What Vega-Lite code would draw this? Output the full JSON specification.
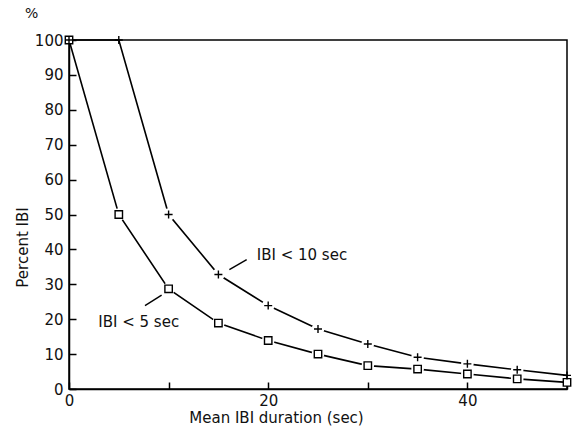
{
  "$schema": "https://vega.github.io/schema/vega-lite/v6.json",
  "width": 498,
  "height": 349,
  "autosize": {"type": "none"},
  "padding": {"left": 69, "top": 40, "right": 8, "bottom": 49},
  "background": "white",
  "config": {
    "view": {"stroke": "black", "strokeWidth": 1.5},
    "font": "DejaVu Sans",
    "axis": {
      "grid": false,
      "domainColor": "black",
      "domainWidth": 1.5,
      "tickColor": "black",
      "tickWidth": 1.5,
      "tickSize": -7,
      "labelColor": "#111",
      "labelFontSize": 15,
      "labelFlush": false,
      "labelOverlap": false,
      "titleColor": "#111",
      "titleFontSize": 15,
      "titleFontWeight": "normal"
    }
  },
  "title": {
    "text": "%",
    "anchor": "start",
    "frame": "group",
    "dx": -44,
    "offset": 12,
    "fontSize": 14,
    "fontWeight": "normal",
    "color": "#111"
  },
  "datasets": {
    "curves": [
      {"series": "IBI < 5 sec", "x": 0, "y": 100},
      {"series": "IBI < 5 sec", "x": 5, "y": 50},
      {"series": "IBI < 5 sec", "x": 10, "y": 28.7},
      {"series": "IBI < 5 sec", "x": 15, "y": 18.9},
      {"series": "IBI < 5 sec", "x": 20, "y": 13.9},
      {"series": "IBI < 5 sec", "x": 25, "y": 10},
      {"series": "IBI < 5 sec", "x": 30, "y": 6.7},
      {"series": "IBI < 5 sec", "x": 35, "y": 5.7},
      {"series": "IBI < 5 sec", "x": 40, "y": 4.3},
      {"series": "IBI < 5 sec", "x": 45, "y": 2.9},
      {"series": "IBI < 5 sec", "x": 50, "y": 1.9},
      {"series": "IBI < 10 sec", "x": 0, "y": 100},
      {"series": "IBI < 10 sec", "x": 5, "y": 100},
      {"series": "IBI < 10 sec", "x": 10, "y": 50},
      {"series": "IBI < 10 sec", "x": 15, "y": 32.8},
      {"series": "IBI < 10 sec", "x": 20, "y": 23.9},
      {"series": "IBI < 10 sec", "x": 25, "y": 17.2},
      {"series": "IBI < 10 sec", "x": 30, "y": 12.9},
      {"series": "IBI < 10 sec", "x": 35, "y": 9.1},
      {"series": "IBI < 10 sec", "x": 40, "y": 7.2},
      {"series": "IBI < 10 sec", "x": 45, "y": 5.5},
      {"series": "IBI < 10 sec", "x": 50, "y": 3.9}
    ],
    "notes": [
      {"label": "IBI < 10 sec", "x": 18.85, "y": 38.5},
      {"label": "IBI < 5 sec", "x": 2.94, "y": 19.3}
    ],
    "leaders": [
      {"x": 16.1, "y": 34.2, "x2": 17.84, "y2": 37.1},
      {"x": 7.63, "y": 23.9, "x2": 9.3, "y2": 26.9}
    ]
  },
  "encoding": {
    "x": {
      "field": "x",
      "type": "quantitative",
      "scale": {"domain": [0, 50], "nice": false, "zero": false},
      "axis": {
        "values": [0, 10, 20, 30, 40, 50],
        "labelExpr": "datum.value % 20 === 0 ? datum.label : ''",
        "labelPadding": 11,
        "title": "Mean IBI duration (sec)",
        "titleX": 207,
        "titleY": 28,
        "titleAnchor": null,
        "titleAlign": "center",
        "titleBaseline": "middle"
      }
    },
    "y": {
      "field": "y",
      "type": "quantitative",
      "scale": {"domain": [0, 100], "nice": false},
      "axis": {
        "values": [0, 10, 20, 30, 40, 50, 60, 70, 80, 90, 100],
        "labelPadding": 13,
        "title": "Percent IBI",
        "titleX": -47,
        "titleY": 207,
        "titleAngle": -90,
        "titleAlign": "center",
        "titleBaseline": "middle"
      }
    }
  },
  "layer": [
    {
      "data": {"name": "curves"},
      "mark": {"type": "line", "color": "black", "strokeWidth": 1.6, "clip": false},
      "encoding": {
        "detail": {"field": "series"}
      }
    },
    {
      "data": {"name": "curves"},
      "transform": [{"filter": "datum.x > 0 && datum.x < 50 && datum.y < 100"}],
      "mark": {"type": "point", "shape": "circle", "filled": true, "fill": "white", "opacity": 1, "size": 160, "strokeWidth": 0, "clip": false},
      "encoding": {}
    },
    {
      "data": {"name": "curves"},
      "transform": [{"filter": "datum.series === 'IBI < 5 sec'"}],
      "mark": {"type": "point", "shape": "square", "filled": false, "fill": "white", "fillOpacity": 1, "stroke": "black", "strokeWidth": 1.4, "opacity": 1, "size": 55, "clip": false},
      "encoding": {}
    },
    {
      "data": {"name": "curves"},
      "transform": [{"filter": "datum.series === 'IBI < 10 sec'"}],
      "mark": {"type": "point", "shape": "M-1,0L1,0M0,-1L0,1", "filled": false, "stroke": "black", "strokeWidth": 1.4, "opacity": 1, "size": 64, "clip": false},
      "encoding": {}
    },
    {
      "data": {"name": "leaders"},
      "mark": {"type": "rule", "color": "black", "strokeWidth": 1.4},
      "encoding": {
        "x2": {"field": "x2"},
        "y2": {"field": "y2"}
      }
    },
    {
      "data": {"name": "notes"},
      "mark": {"type": "text", "align": "left", "baseline": "middle", "fontSize": 15, "color": "#111"},
      "encoding": {
        "text": {"field": "label"}
      }
    }
  ]
}
